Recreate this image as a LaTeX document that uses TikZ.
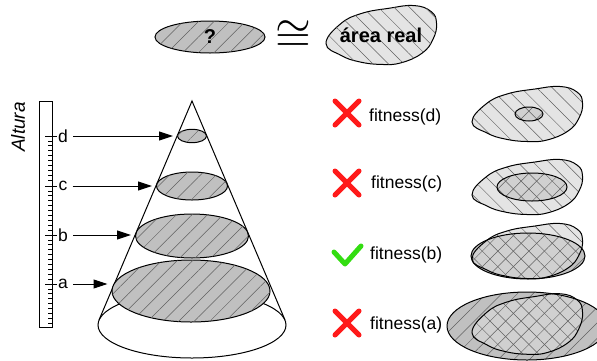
\documentclass[tikz,border=0pt]{standalone}
\usepackage{fontspec}
\setmainfont{Liberation Sans}
\usetikzlibrary{arrows.meta, positioning, shapes.geometric, patterns.meta}

\definecolor{slicegray}{HTML}{C0C0C0}
\definecolor{blobgray}{HTML}{E4E4E4}
\definecolor{bothgray}{HTML}{D0D0D0}
\definecolor{hatchgray}{HTML}{606060}
\definecolor{wrongred}{HTML}{FF1A1A}
\definecolor{rightgreen}{HTML}{33DD11}

\tikzset{
  hatchne/.style={pattern={Lines[angle=45,distance=11pt,line width=0.5pt]}, pattern color=hatchgray},
  hatchnw/.style={pattern={Lines[angle=-45,distance=11pt,line width=0.5pt]}, pattern color=hatchgray},
  slice/.style={ellipse, draw, line width=1pt, fill=slicegray, inner sep=0pt, postaction={hatchne}},
  label/.style={font=\fontsize{17.5}{20}\selectfont, inner sep=1pt},
  cross/.style={wrongred, line width=5pt, line cap=round},
  tick/.style={line width=0.8pt},
}

% outline of the real area, centred on the origin
\newcommand{\blobline}{plot[smooth cycle, tension=0.75] coordinates {(-55,8) (-41,-10) (-20,-20) (8,-25) (33,-27.5) (50,-22) (55.5,-11) (52,4) (41,17) (20,26) (0,27.5) (-22,25) (-40,19)}}

% #1 blob centre, #2 ellipse centre, #3 x radius, #4 y radius, #5 blob yscale
\newcommand{\fitrow}[5]{%
  \fill[blobgray, shift={#1}, yscale=#5] \blobline;
  \fill[slicegray] #2 ellipse [x radius=#3, y radius=#4];
  \begin{scope}
    \clip[shift={#1}, yscale=#5] \blobline;
    \fill[bothgray] #2 ellipse [x radius=#3, y radius=#4];
  \end{scope}
  \path[hatchnw, shift={#1}, yscale=#5] \blobline;
  \path[hatchne] #2 ellipse [x radius=#3, y radius=#4];
  \draw[line width=1pt, shift={#1}, yscale=#5] \blobline;
  \draw[line width=1pt] #2 ellipse [x radius=#3, y radius=#4];
}

\begin{document}
\begin{tikzpicture}[x=1pt, y=-1pt]
\useasboundingbox (0,0) rectangle (597,360);

% top line
\node[slice, minimum width=110pt, minimum height=32pt, font=\bfseries\fontsize{20}{20}\selectfont] (guess) at (210,37) {?};
\node[inner sep=0pt] (approx) at (293,36) {\scalebox{4.6}{$\cong$}};
\path[fill=blobgray, draw, line width=1pt, postaction={hatchnw}, shift={(381,35)}, yscale=1.07] \blobline;
\node[font=\bfseries\fontsize{20}{20}\selectfont] (real) at (381,35) {área real};

% ruler
\node[rotate=90, font=\itshape\fontsize{19}{20}\selectfont] (height) at (18,127) {Altura};
\draw[line width=1pt] (39,101) rectangle (52,327);
\foreach \k in {-6,...,8}
  \draw[tick] (48,284+\k*4.93) -- (52,284+\k*4.93);
\foreach \k in {1,...,9} {
  \draw[tick] (48,136+\k*4.93) -- (52,136+\k*4.93);
  \draw[tick] (48,186+\k*4.93) -- (52,186+\k*4.93);
  \draw[tick] (48,235+\k*4.93) -- (52,235+\k*4.93);
}
\foreach \y in {136,186,235,284}
  \draw[tick] (45,\y) -- (57,\y);

% cone
\coordinate (apex) at (192,101);
\coordinate (baseL) at (99,320);
\coordinate (baseR) at (285,320);
\draw[line width=1pt, fill=white] (192,325) ellipse [x radius=94, y radius=33];
\draw[line width=1pt] (baseL) -- (apex) -- (baseR);

% slices
\node[slice, minimum width=29pt, minimum height=13.4pt] (sld) at (192,136) {};
\node[slice, minimum width=71pt, minimum height=28pt] (slc) at (192,186) {};
\node[slice, minimum width=113pt, minimum height=44pt] (slb) at (192,236) {};
\node[slice, minimum width=158pt, minimum height=62pt] (sla) at (191,291) {};

% labels and arrows
\node[label] (lbld) at (63,136) {d};
\node[label] (lblc) at (63,186) {c};
\node[label] (lblb) at (63,235) {b};
\node[label] (lbla) at (63,284) {a};
\foreach \s in {d,c,b,a}
  \draw[line width=1pt, -{Triangle[length=14pt,width=9pt]}, shorten <=4pt, shorten >=4pt] (lbl\s.east) -- (lbl\s.east -| sl\s.west);

% verdicts
\draw[cross] (335,101) -- (359,125) (335,125) -- (359,101);
\draw[cross] (335,171) -- (359,195) (335,195) -- (359,171);
\draw[rightgreen, line width=5pt, line cap=round, line join=round] (334,252) -- (345,264) -- (361,246);
\draw[cross] (335,311) -- (359,335) (335,335) -- (359,311);
\node[label, anchor=west] (fitd) at (368,117) {fitness(d)};
\node[label, anchor=west] (fitc) at (370,184) {fitness(c)};
\node[label, anchor=west] (fitb) at (369,255) {fitness(b)};
\node[label, anchor=west] (fita) at (369,325) {fitness(a)};

% comparisons with the real area
\fitrow{(527,114)}{(529,114)}{14}{7}{1}
\fitrow{(527,187)}{(532,187)}{35}{14}{1}
\fitrow{(527,251)}{(528,256)}{57}{23}{1}
\fitrow{(527,324)}{(527,326)}{80}{34}{1.1}

\end{tikzpicture}
\end{document}
